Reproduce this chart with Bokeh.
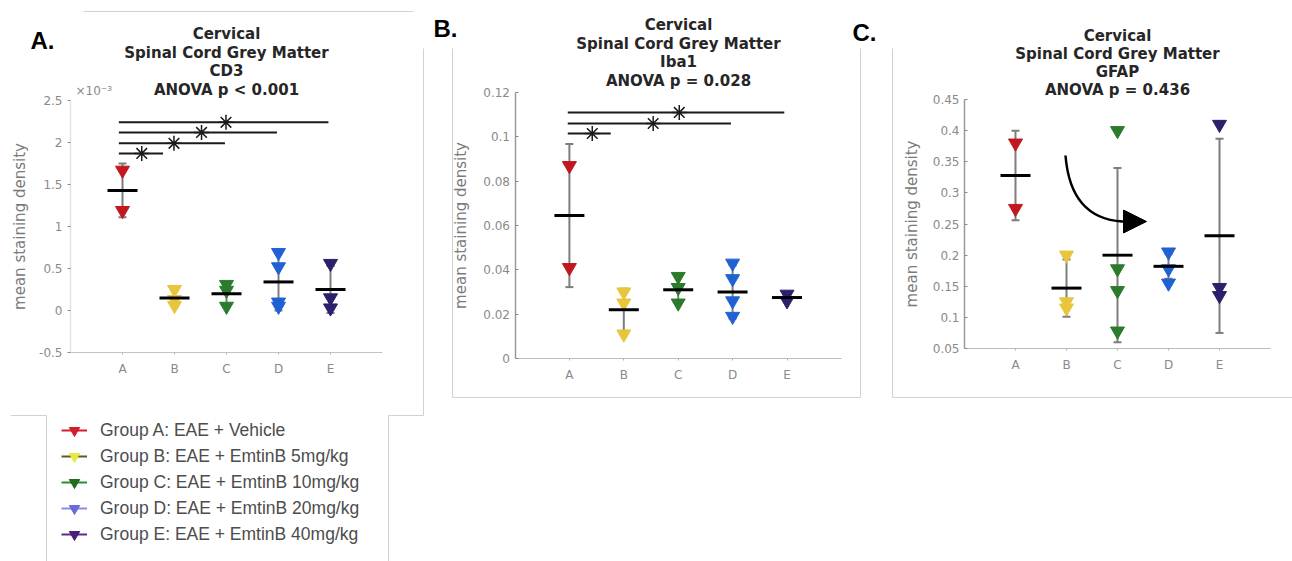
import math
from bokeh.plotting import figure
from bokeh.layouts import row
from bokeh.models import (Range1d, LinearAxis, FixedTicker, ColumnDataSource,
                          Whisker, TeeHead, Legend, LegendItem, Arrow, NormalHead)
from bokeh.core.properties import value
from bokeh.embed import file_html
from bokeh.resources import INLINE

# ---------------------------------------------------------------- data
groups = ["A", "B", "C", "D", "E"]
group_pos = [1, 2, 3, 4, 5]
group_colors = ["#c3161f", "#e9c53c", "#2c7b2c", "#2062d4", "#2c1f6c"]

legend_labels = [
    "Group A: EAE + Vehicle",
    "Group B: EAE + EmtinB 5mg/kg",
    "Group C: EAE + EmtinB 10mg/kg",
    "Group D: EAE + EmtinB 20mg/kg",
    "Group E: EAE + EmtinB 40mg/kg",
]
legend_marker_colors = ["#d0202a", "#e8e845", "#1f6e1f", "#6b6bd6", "#4a1f7a"]
legend_line_colors = ["#d0202a", "#5a5a20", "#2f8a2f", "#8c8ce6", "#5a2a8a"]

y_label = "mean staining density"

# Panel A: CD3 (values in units of 1e-3)
cd3_title = ["Cervical", "Spinal Cord Grey Matter", "CD3", "ANOVA p < 0.001"]
cd3_points = [[1.67, 1.19], [0.25, 0.13, 0.06], [0.31, 0.24, 0.05],
              [0.69, 0.52, 0.10, 0.05], [0.56, 0.15, 0.03]]
cd3_means = [1.43, 0.15, 0.20, 0.34, 0.25]
cd3_errs = [0.32, 0.10, 0.12, 0.34, 0.28]
cd3_sig_y = [1.87, 1.99, 2.12, 2.24]
cd3_sig_start = [0.93, 0.93, 0.93, 0.93]
cd3_sig_end = [1.78, 2.97, 3.97, 4.96]
cd3_star_x = [1.37, 1.99, 2.52, 2.99]
cd3_yticks = [-0.5, 0, 0.5, 1, 1.5, 2, 2.5]
cd3_ytick_labels = ["-0.5", "0", "0.5", "1", "1.5", "2", "2.5"]
cd3_exponent = "\u00d710\u207b\u00b3"

# Panel B: Iba1
iba1_title = ["Cervical", "Spinal Cord Grey Matter", "Iba1", "ANOVA p = 0.028"]
iba1_points = [[0.087, 0.041], [0.030, 0.025, 0.011], [0.037, 0.032, 0.025],
               [0.043, 0.036, 0.026, 0.019], [0.029, 0.026]]
iba1_means = [0.0645, 0.022, 0.031, 0.030, 0.0275]
iba1_errs = [0.0323, 0.0095, 0.006, 0.012, 0.002]
iba1_sig_y = [0.1015, 0.106, 0.111]
iba1_sig_start = [0.97, 0.97, 0.97]
iba1_sig_end = [1.76, 3.97, 4.95]
iba1_star_x = [1.42, 2.54, 3.02]
iba1_yticks = [0, 0.02, 0.04, 0.06, 0.08, 0.1, 0.12]
iba1_ytick_labels = ["0", "0.02", "0.04", "0.06", "0.08", "0.1", "0.12"]

# Panel C: GFAP
gfap_title = ["Cervical", "Spinal Cord Grey Matter", "GFAP", "ANOVA p = 0.436"]
gfap_points = [[0.38, 0.275], [0.20, 0.125, 0.115], [0.40, 0.178, 0.143, 0.078],
               [0.205, 0.178, 0.155], [0.41, 0.148, 0.135]]
gfap_means = [0.328, 0.147, 0.200, 0.182, 0.231]
gfap_errs = [0.072, 0.046, 0.140, 0.020, 0.156]
gfap_yticks = [0.05, 0.1, 0.15, 0.2, 0.25, 0.3, 0.35, 0.4, 0.45]
gfap_ytick_labels = ["0.05", "0.1", "0.15", "0.2", "0.25", "0.3", "0.35", "0.4", "0.45"]

# ---------------------------------------------------------------- styles
TICK_GRAY = "#8a8a8a"
LABEL_GRAY = "#7a7a7a"
ERR_GRAY = "#7d7d7d"
FRAME_GRAY = "#d2d2d2"
TITLE_COLOR = "#262626"
PAGE_W = 1292
PAGE_H = 561


def calib(px0, ppu_x, py0, ppu_y, yval0):
    """page pixel -> data converters for one panel"""
    def fx(px):
        return (px - px0) / ppu_x

    def fy(py):
        return yval0 + (py0 - py) / ppu_y
    return fx, fy


def make_fig(left_px, right_px, fx, fy):
    p = figure(width=right_px - left_px, height=PAGE_H,
               x_range=Range1d(fx(left_px), fx(right_px)),
               y_range=Range1d(fy(PAGE_H), fy(0)),
               x_axis_location=None, y_axis_location=None,
               toolbar_location=None, output_backend="svg",
               min_border=0, outline_line_color=None,
               background_fill_color="white", border_fill_color="white")
    p.xgrid.visible = False
    p.ygrid.visible = False
    return p


def add_axes(p, y_floor, ybounds, yticks, ylabels, label_standoff,
             yaxis_color, xaxis_color, tick_in, tick_out):
    ya = LinearAxis(fixed_location=0, bounds=ybounds,
                    ticker=FixedTicker(ticks=yticks),
                    major_label_overrides=dict(zip(yticks, ylabels)),
                    axis_label=y_label,
                    axis_label_text_font="DejaVu Sans",
                    axis_label_text_font_size="15px",
                    axis_label_text_font_style="normal",
                    axis_label_text_color=LABEL_GRAY,
                    axis_label_standoff=label_standoff,
                    major_label_text_font="DejaVu Sans",
                    major_label_text_font_size="12px",
                    major_label_text_color=TICK_GRAY,
                    major_label_standoff=5,
                    axis_line_color=yaxis_color, axis_line_width=1.5,
                    major_tick_line_color=TICK_GRAY,
                    major_tick_in=tick_in, major_tick_out=tick_out,
                    minor_tick_line_color=None)
    p.add_layout(ya, "left")
    xa = LinearAxis(fixed_location=y_floor, bounds=(0, 6),
                    ticker=FixedTicker(ticks=group_pos),
                    major_label_overrides=dict(zip(group_pos, groups)),
                    major_label_text_font="DejaVu Sans",
                    major_label_text_font_size="12px",
                    major_label_text_color=TICK_GRAY,
                    major_label_standoff=7,
                    axis_line_color=xaxis_color, axis_line_width=1.2,
                    major_tick_line_color="#b0b0b0",
                    major_tick_in=0, major_tick_out=2,
                    minor_tick_line_color=None)
    p.add_layout(xa, "below")


def draw_groups(p, points, means, errs):
    lower = [m - e for m, e in zip(means, errs)]
    upper = [m + e for m, e in zip(means, errs)]
    src = ColumnDataSource(dict(x=group_pos, lower=lower, upper=upper, mean=means))
    wh = Whisker(source=src, base="x", lower="lower", upper="upper",
                 dimension="height", line_color=ERR_GRAY, line_width=2,
                 lower_head=TeeHead(size=8, line_color=ERR_GRAY, line_width=2),
                 upper_head=TeeHead(size=8, line_color=ERR_GRAY, line_width=2))
    p.add_layout(wh)
    for xpos, pts, col in zip(group_pos, points, group_colors):
        p.scatter(x=[xpos] * len(pts), y=pts, marker="inverted_triangle",
                  size=14, fill_color=col, line_color=col)
    p.scatter(x="x", y="mean", source=src, marker="dash", size=30,
              line_color="black", line_width=3)


def add_title(p, fx, fy, center_px, ys_px, lines):
    p.text(x=[fx(center_px)] * len(lines), y=[fy(v) for v in ys_px], text=lines,
           text_align="center", text_baseline="middle",
           text_font=value("DejaVu Sans"), text_font_style="bold",
           text_font_size="15px", text_color=TITLE_COLOR)


def add_panel_label(p, fx, fy, left_px, base_px, label):
    p.text(x=[fx(left_px)], y=[fy(base_px)], text=[label],
           text_align="left", text_baseline="alphabetic",
           text_font=value("Liberation Sans"), text_font_style="bold",
           text_font_size="24px", text_color="black")


def add_sig(p, ys, xs0, xs1, stars):
    p.segment(x0=xs0, y0=ys, x1=xs1, y1=ys, line_color="#1a1a1a", line_width=2)
    p.scatter(x=stars, y=ys, marker="asterisk", size=15,
              line_color="#1a1a1a", line_width=1.5)


def frame_lines(p, segs):
    p.segment(x0=[s[0] for s in segs], y0=[s[1] for s in segs],
              x1=[s[2] for s in segs], y1=[s[3] for s in segs],
              line_color=FRAME_GRAY, line_width=1)


# ---------------------------------------------------------------- panel A
fxA, fyA = calib(70, 52.0, 310, 84.0, 0.0)
pA = make_fig(0, 430, fxA, fyA)
frame_lines(pA, [
    (fxA(83), fyA(11), fxA(413), fyA(11)),
    (fxA(423), fyA(48), fxA(423), fyA(415)),
    (fxA(10), fyA(415), fxA(46), fyA(415)),
    (fxA(46), fyA(415), fxA(46), fyA(561)),
    (fxA(388), fyA(415), fxA(423), fyA(415)),
    (fxA(388), fyA(415), fxA(388), fyA(561)),
])
add_axes(pA, -0.5, (-0.5, 2.5), cd3_yticks, cd3_ytick_labels, 7,
         "#e4e4e4", "#c4c4c4", 0, 3)
pA.text(x=[fxA(75)], y=[fyA(90)], text=[cd3_exponent],
        text_font=value("DejaVu Sans"), text_font_size="12px",
        text_color=TICK_GRAY, text_baseline="middle", text_align="left")
add_sig(pA, cd3_sig_y, cd3_sig_start, cd3_sig_end, cd3_star_x)
draw_groups(pA, cd3_points, cd3_means, cd3_errs)
add_title(pA, fxA, fyA, 226, [33, 52, 70, 89], cd3_title)
add_panel_label(pA, fxA, fyA, 30, 40, "A.")

nan = float("nan")
items = []
for lab, lc, mc in zip(legend_labels, legend_line_colors, legend_marker_colors):
    lr = pA.line(x=[nan, nan], y=[nan, nan], line_color=lc, line_width=2)
    sr = pA.scatter(x=[nan], y=[nan], marker="inverted_triangle",
                    fill_color=mc, line_color=mc)
    items.append(LegendItem(label=lab, renderers=[lr, sr]))
legend = Legend(items=items, location=(61, 14), orientation="vertical",
                glyph_width=26, glyph_height=26, spacing=0,
                label_standoff=13, label_text_font="Liberation Sans",
                label_text_font_size="17.5px", label_text_color="#4d4d4d",
                border_line_color=None, background_fill_alpha=0,
                padding=0, margin=0)
pA.add_layout(legend)

# ---------------------------------------------------------------- panel B
fxB, fyB = calib(514.5, 54.4, 358, 2216.7, 0.0)
pB = make_fig(430, 880, fxB, fyB)
frame_lines(pB, [
    (fxB(452), fyB(48), fxB(452), fyB(397)),
    (fxB(452), fyB(397), fxB(860), fyB(397)),
    (fxB(860), fyB(48), fxB(860), fyB(397)),
])
add_axes(pB, 0, (0, 0.12), iba1_yticks, iba1_ytick_labels, 11,
         "#9a9a9a", "#bdbdbd", 3, 0)
add_sig(pB, iba1_sig_y, iba1_sig_start, iba1_sig_end, iba1_star_x)
draw_groups(pB, iba1_points, iba1_means, iba1_errs)
add_title(pB, fxB, fyB, 678, [24, 43, 61, 80], iba1_title)
add_panel_label(pB, fxB, fyB, 433, 28, "B.")
add_panel_label(pB, fxB, fyB, 852, 32, "C.")

# ---------------------------------------------------------------- panel C
fxC, fyC = calib(964, 51.0, 348, 622.5, 0.05)
pC = make_fig(880, PAGE_W, fxC, fyC)
frame_lines(pC, [
    (fxC(892), fyC(48), fxC(892), fyC(397)),
    (fxC(892), fyC(397), fxC(PAGE_W), fyC(397)),
])
add_axes(pC, 0.05, (0.05, 0.45), gfap_yticks, gfap_ytick_labels, 9,
         "#9a9a9a", "#bdbdbd", 3, 0)
draw_groups(pC, gfap_points, gfap_means, gfap_errs)
add_title(pC, fxC, fyC, 1117, [35, 53, 71, 89], gfap_title)
# curved annotation arrow
pC.quadratic(x0=[fxC(1065)], y0=[fyC(155)], x1=[fxC(1122)], y1=[fyC(221)],
             cx=[fxC(1070)], cy=[fyC(218)], line_color="black", line_width=2.5)
pC.add_layout(Arrow(end=NormalHead(size=23, fill_color="black", line_color="black"),
                    x_start=fxC(1120), y_start=fyC(221),
                    x_end=fxC(1146), y_end=fyC(221),
                    line_color="black", line_width=2))

layout = row(pA, pB, pC)
open("out.html", "w").write(file_html(layout, INLINE))
